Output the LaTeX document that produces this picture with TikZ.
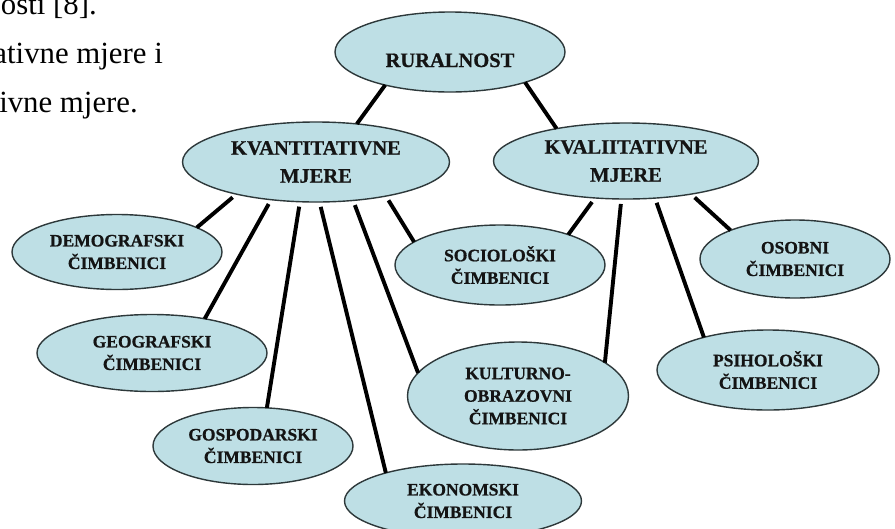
\documentclass[tikz,border=0pt]{standalone}
\usepackage{fontspec}
\setmainfont{Liberation Serif}
\newfontfamily\ellfont{Liberation Serif Bold}[FakeBold=0.8]
\usetikzlibrary{shapes.geometric}
\definecolor{ellfill}{RGB}{190,223,229}
\definecolor{ellline}{RGB}{45,56,58}
\begin{document}
\begin{tikzpicture}[x=1pt,y=-1pt,
  ell/.style={ellipse, draw=ellline, line width=1.4pt, fill=ellfill, inner sep=0pt, outer sep=0pt, align=center, text=black!92},
  bigell/.style={ell, font=\fontsize{20.5pt}{28pt}\selectfont\ellfont},
  smallell/.style={ell, font=\fontsize{17.5pt}{22.5pt}\selectfont\ellfont},
  conn/.style={line width=3.9pt, black},
  fromp/.style={shorten <=5pt},
  bodytext/.style={anchor=base east, inner sep=0pt, font=\fontsize{30.8pt}{30.8pt}\selectfont}
]
\useasboundingbox (0,0) rectangle (895,528);
\clip (0,0) rectangle (895,528);
\fill[white] (0,0) rectangle (895,528);

% body text cut from the page
\node[bodytext] (t1) at (97,14) {osti [8].};
\node[bodytext] (t2) at (163,63) {ativne mjere i};
\node[bodytext] (t3) at (138,112) {ivne mjere.};

% ellipses
\node[bigell, minimum width=230pt, minimum height=80pt, text height=30pt, text depth=0pt] (rur) at (450,52) {RURALNOST};
\node[bigell, minimum width=267pt, minimum height=80pt] (kvant) at (316,162) {KVANTITATIVNE\\MJERE};
\node[bigell, minimum width=265pt, minimum height=76pt] (kval) at (626,161) {KVALIITATIVNE\\MJERE};

\node[smallell, minimum width=210pt, minimum height=75pt] (demo) at (117,252) {DEMOGRAFSKI\\ČIMBENICI};
\node[smallell, minimum width=230pt, minimum height=77pt] (geo) at (152,353) {GEOGRAFSKI\\ČIMBENICI};
\node[smallell, minimum width=200pt, minimum height=77pt] (gosp) at (253,446) {GOSPODARSKI\\ČIMBENICI};
\node[smallell, minimum width=237pt, minimum height=74pt] (ekon) at (463,501) {EKONOMSKI\\ČIMBENICI};
\node[smallell, minimum width=210pt, minimum height=80pt] (soc) at (500,265) {SOCIOLOŠKI\\ČIMBENICI};
\node[smallell, minimum width=221pt, minimum height=108pt] (kult) at (518,396) {KULTURNO-\\OBRAZOVNI\\ČIMBENICI};
\node[smallell, minimum width=190pt, minimum height=78pt] (oso) at (795,259) {OSOBNI\\ČIMBENICI};
\node[smallell, minimum width=222pt, minimum height=80pt] (psi) at (768,370) {PSIHOLOŠKI\\ČIMBENICI};

% connectors
\draw[conn] (rur.207.6) -- (kvant.43.6);
\draw[conn] (rur.-22.4) -- (kval.155.3);

\draw[conn, fromp] (kvant.-158.3) -- (demo.17.4);
\draw[conn, fromp] (kvant.-140.1) -- (geo.33.9);
\draw[conn, fromp] (kvant.-112.8) -- (gosp.70.3);
\draw[conn, fromp] (kvant.-85.4) -- (ekon.160.1);
\draw[conn, fromp] (kvant.-46.4) -- (kult.167.4);
\draw[conn, fromp] (kvant.-26.6) -- (soc.165.2);

\draw[conn, fromp] (kval.-130.2) -- (soc.24.6);
\draw[conn, fromp] (kval.-97.6) -- (kult.21);
\draw[conn, fromp] (kval.-52.3) -- (psi.153.4);
\draw[conn, fromp] (kval.-27.5) -- (oso.156.6);
\end{tikzpicture}
\end{document}
